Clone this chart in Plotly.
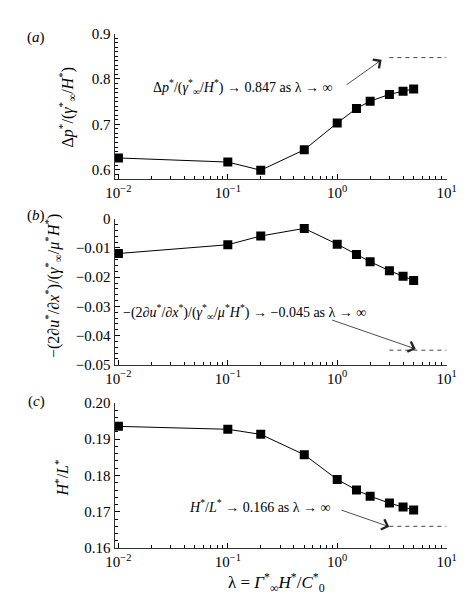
import plotly.graph_objects as go
import numpy as np

lam = [0.01, 0.1, 0.2, 0.5, 1.0, 1.5, 2.0, 3.0, 4.0, 5.0]
dp = [0.626, 0.617, 0.599, 0.644, 0.703, 0.735, 0.751, 0.766, 0.773, 0.778]
dudx = [-0.0119, -0.0089, -0.0059, -0.0033, -0.0087, -0.0122, -0.0147, -0.0178, -0.0197, -0.0211]
hl = [0.1935, 0.1927, 0.1913, 0.1857, 0.1789, 0.1760, 0.1743, 0.1724, 0.1713, 0.1705]

asym_x = [3, 10]
asym_dp = 0.847
asym_dudx = -0.045
asym_hl = 0.166

xtickvals = [0.01, 0.1, 1, 10]
xticktext = ["10<sup>−2</sup>", "10<sup>−1</sup>", "10<sup>0</sup>", "10<sup>1</sup>"]

W, H = 470, 602
FONT = "Liberation Serif, Times New Roman, serif"

def px(x):
    return x / W

def py(y):
    return 1 - y / H

xl, xr = 101.7, 447.7
panels = [
    dict(top=18.0, bot=167.3, rng=[0.58, 0.9], dtick=0.1, tick0=0.6, minor=0.01, fmt=".1f"),
    dict(top=208.3, bot=358.3, rng=[-0.05, 0.0], dtick=0.01, tick0=0.0, minor=0.002, fmt=None),
    dict(top=397.3, bot=546.7, rng=[0.16, 0.20], dtick=0.01, tick0=0.16, minor=0.002, fmt=".2f"),
]
series = [dp, dudx, hl]
asyms = [asym_dp, asym_dudx, asym_hl]

minor_x = [k * 10.0 ** e for e in range(-2, 1) for k in range(2, 10)]

fig = go.Figure()
for i, (p, s, a) in enumerate(zip(panels, series, asyms)):
    n = "" if i == 0 else str(i + 1)
    fig.add_trace(go.Scatter(
        x=lam, y=s, mode="lines+markers",
        line=dict(color="black", width=1),
        marker=dict(symbol="square", size=9, color="black"),
        xaxis="x" + n, yaxis="y" + n, showlegend=False))
    fig.add_trace(go.Scatter(
        x=asym_x, y=[a, a], mode="lines",
        line=dict(color="#444", width=1, dash="4px,4px"),
        xaxis="x" + n, yaxis="y" + n, showlegend=False))
    xa = dict(type="log", range=[-2.035, 1.0], domain=[px(xl), px(xr)],
              anchor="y" + n, tickvals=xtickvals, ticktext=xticktext,
              ticks="inside", ticklen=5, tickcolor="black",
              showline=True, linecolor="#333", linewidth=1, mirror=False,
              showgrid=False, zeroline=False,
              tickfont=dict(family=FONT, size=15, color="black"),
              minor=dict(tickvals=minor_x, ticks="inside", ticklen=3, tickcolor="black", showgrid=False))
    ya = dict(range=p["rng"], domain=[py(p["bot"]), py(p["top"])],
              anchor="x" + n, dtick=p["dtick"], tick0=p["tick0"],
              ticks="inside", ticklen=5, tickcolor="black",
              showline=True, linecolor="#333", linewidth=1,
              showgrid=False, zeroline=False,
              tickfont=dict(family=FONT, size=15, color="black"),
              minor=dict(dtick=p["minor"], ticks="inside", ticklen=3, tickcolor="black", showgrid=False))
    if p["fmt"]:
        ya["tickformat"] = p["fmt"]
    fig.layout["xaxis" + n] = xa
    fig.layout["yaxis" + n] = ya

ann = []
def txt(x, y, t, size=14, angle=0, xanchor="center"):
    ann.append(dict(x=px(x), y=py(y), xref="paper", yref="paper", text=t,
                    showarrow=False, textangle=angle, xanchor=xanchor, yanchor="middle",
                    font=dict(family=FONT, size=size, color="black")))

def arrow(n, x0, y0, x1, y1):
    ann.append(dict(x=x1, y=y1, ax=x0, ay=y0, xref="x" + n, yref="y" + n,
                    axref="x" + n, ayref="y" + n, text="", showarrow=True,
                    arrowhead=4, arrowsize=2.6, arrowwidth=0.8, arrowcolor="#222", standoff=0))

# panel labels
txt(20, 22, "(<i>a</i>)", 15)
txt(20, 205, "(<i>b</i>)", 15)
txt(20, 396, "(<i>c</i>)", 15)

# y titles
txt(52, 93, "Δ<i>p</i><sup>*</sup>/(<i>γ</i><sup>*</sup><sub>∞</sub>/<i>H</i><sup>*</sup>)", 16, -90)
txt(37, 278, "−(2∂<i>u</i><sup>*</sup>/∂<i>x</i><sup>*</sup>)/(<i>γ</i><sup>*</sup><sub>∞</sub>/<i>μ</i><sup>*</sup><i>H</i><sup>*</sup>)", 16, -90)
txt(47, 474, "<i>H</i><sup>*</sup>/<i>L</i><sup>*</sup>", 16, -90)

# x title
txt(270, 582, "λ = <i>Γ</i><sup>*</sup><sub>∞</sub><i>H</i><sup>*</sup>/<i>C</i><sup>*</sup><sub>0</sub>", 17)

# in-plot annotations
txt(235, 73, "Δ<i>p</i><sup>*</sup>/(<i>γ</i><sup>*</sup><sub>∞</sub>/<i>H</i><sup>*</sup>) → 0.847 as λ → ∞", 14)
txt(237, 304, "−(2∂<i>u</i><sup>*</sup>/∂<i>x</i><sup>*</sup>)/(<i>γ</i><sup>*</sup><sub>∞</sub>/<i>μ</i><sup>*</sup><i>H</i><sup>*</sup>) → −0.045 as λ → ∞", 14)
txt(253, 503, "<i>H</i><sup>*</sup>/<i>L</i><sup>*</sup> → 0.166 as λ → ∞", 14)

arrow("", 0.073, 0.785, 0.406, 0.842)
arrow("2", -0.061, -0.0345, 0.718, -0.0446)
arrow("3", 0.026, 0.1706, 0.476, 0.1659)

fig.update_layout(width=W, height=H, margin=dict(l=0, r=0, t=0, b=0),
                  paper_bgcolor="white", plot_bgcolor="white",
                  font=dict(family=FONT, color="black"),
                  annotations=ann, showlegend=False)
fig.write_html("out.html")
